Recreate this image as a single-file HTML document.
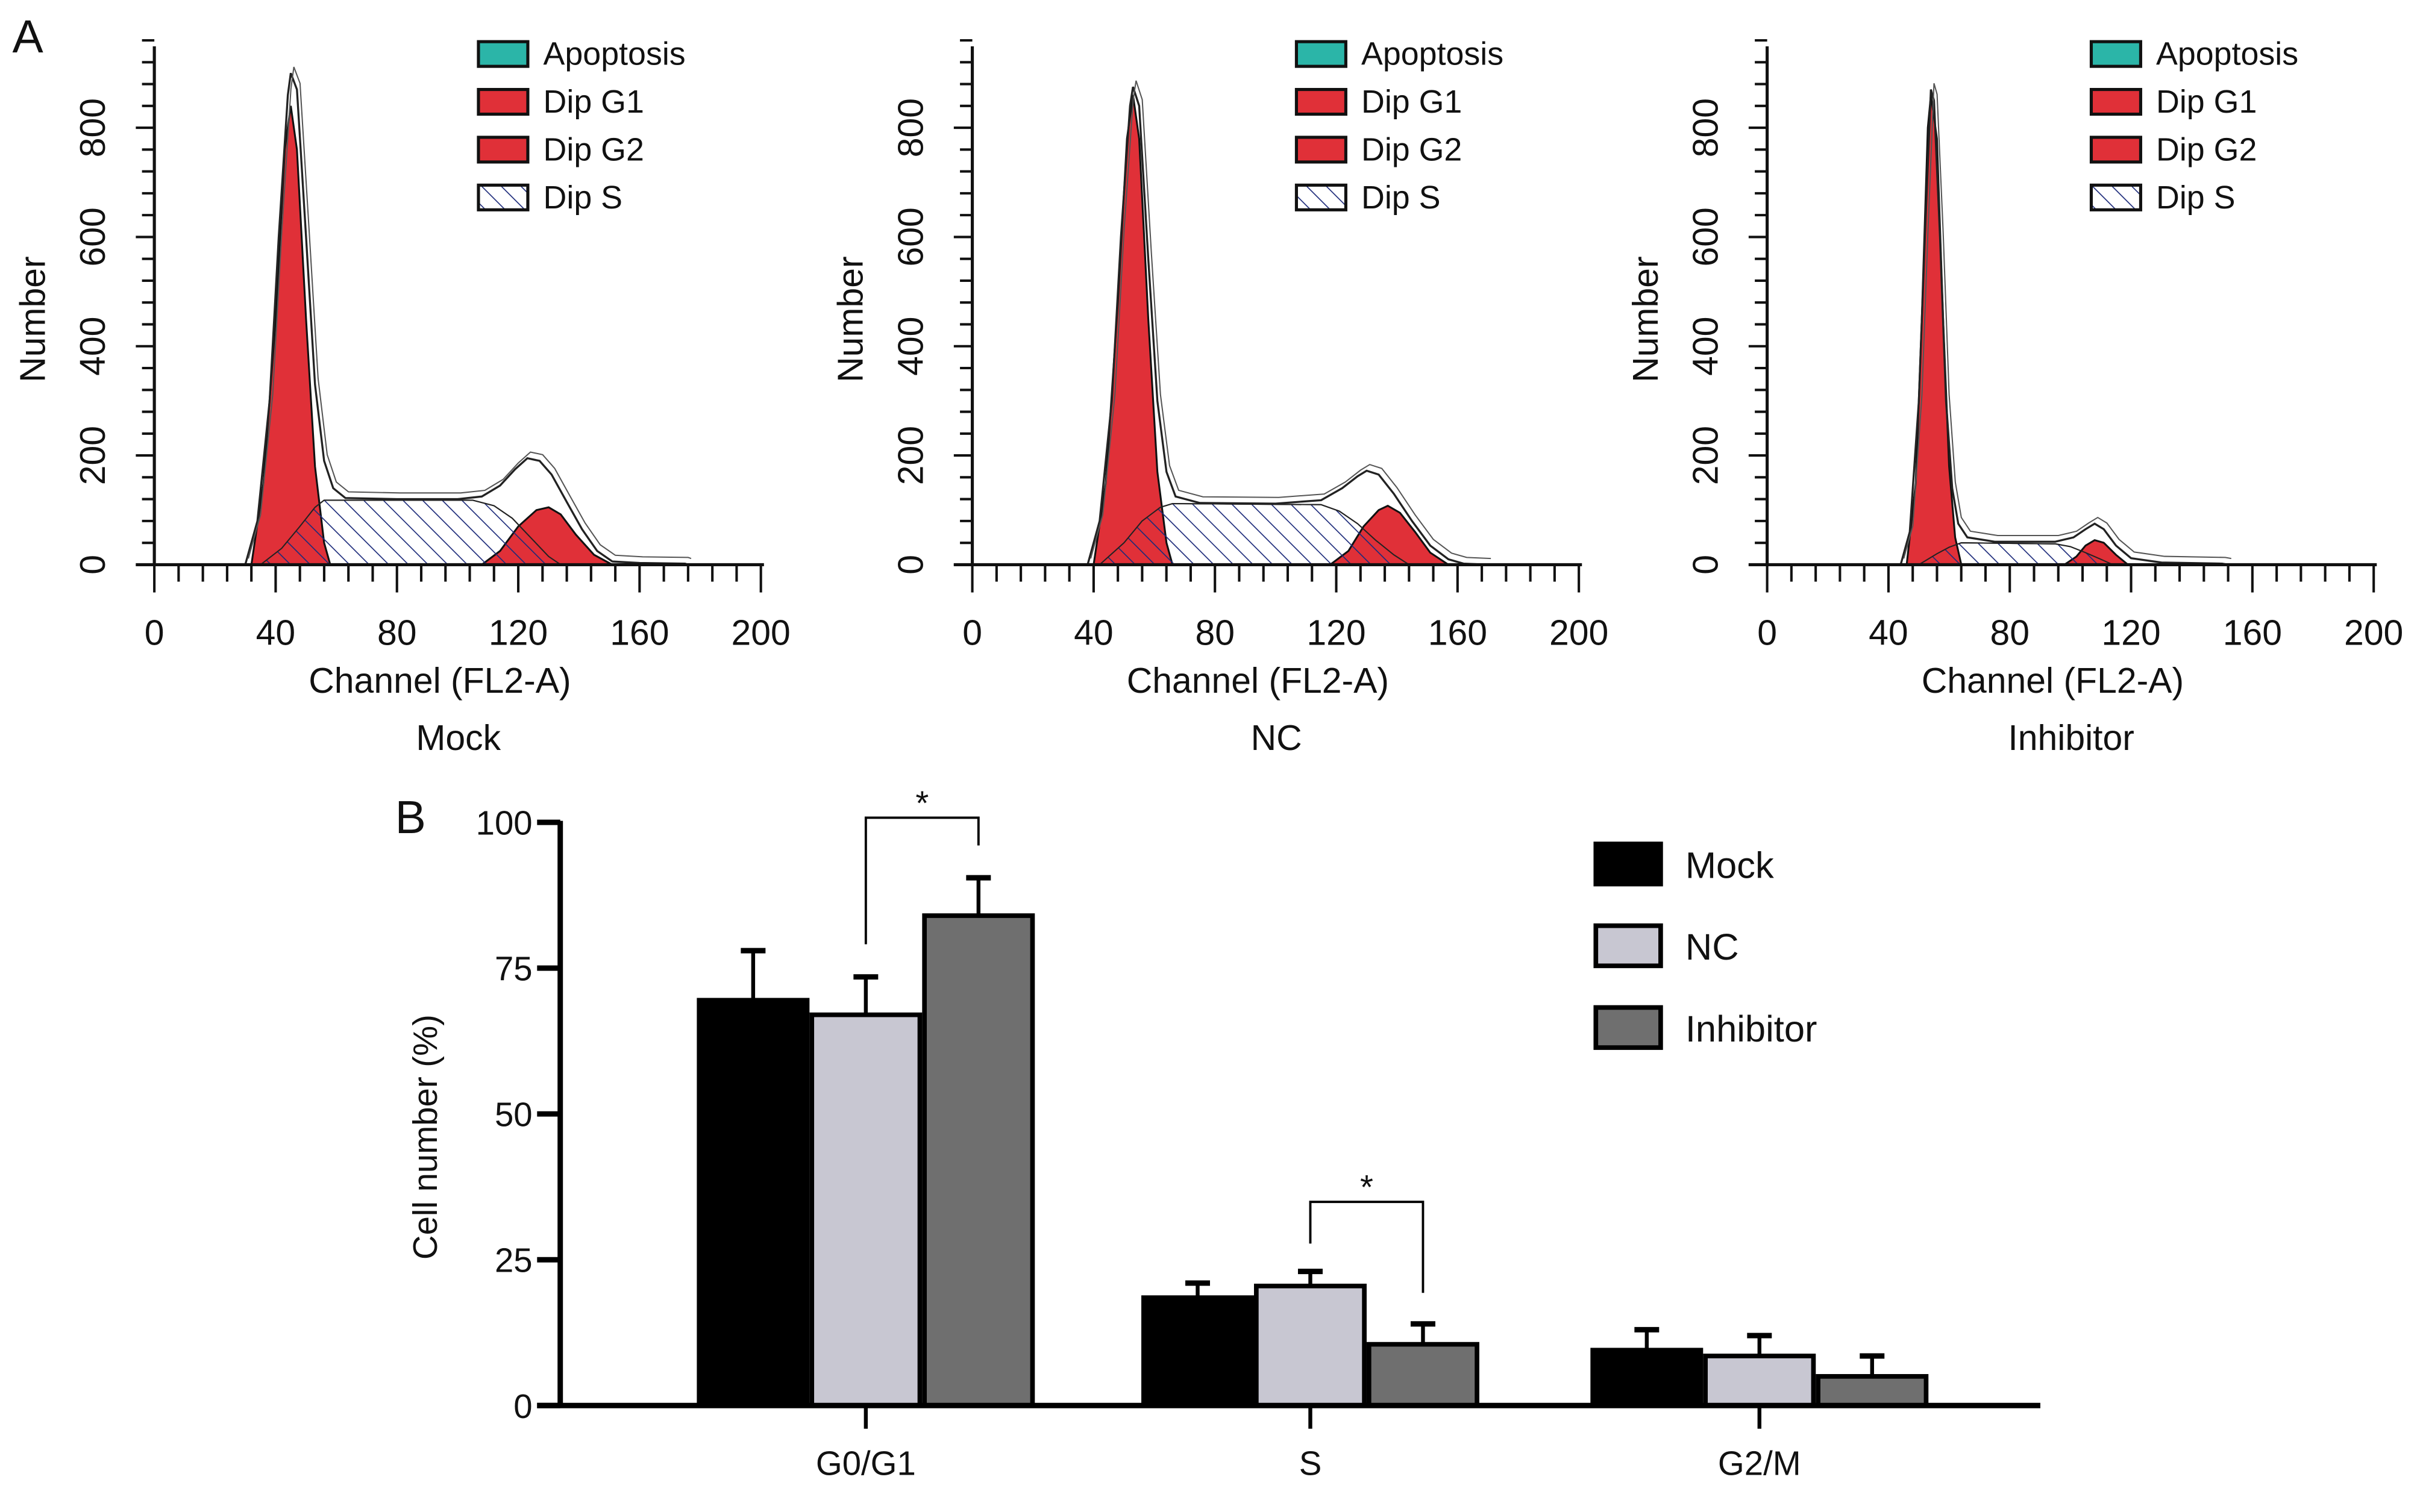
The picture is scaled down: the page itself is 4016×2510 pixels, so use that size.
<!DOCTYPE html>
<html><head><meta charset="utf-8"><style>
html,body{margin:0;padding:0;background:#fff;}
svg{display:block;}
text{font-family:"Liberation Sans",sans-serif;fill:#111;}
</style></head><body>
<svg id="fig" xmlns="http://www.w3.org/2000/svg" width="4016" height="2510" viewBox="0 0 1568 980">
<defs>
<pattern id="hatch" patternUnits="userSpaceOnUse" width="9" height="9" patternTransform="rotate(-45)">
<line x1="0" y1="0" x2="0" y2="9" stroke="#1c2a7a" stroke-width="1.3"/>
</pattern>
</defs>
<rect x="0" y="0" width="1568" height="980" fill="#fff"/>
<text x="8" y="34" font-size="30">A</text>
<text x="256" y="540" font-size="30">B</text>
<g id="histos"></g>
<g id="bars"></g>
</svg>
<script>
// ---------- Histogram data (channel, count) ----------
const histNames = ["Mock","NC","Inhibitor"];
const histOrigins = [100, 630, 1145];
const mockG1 = [[32,0],[36,150],[40,450],[43,760],[45,840],[47,760],[50,450],[53,180],[56,40],[58,0]];
const mockS = [[35,0],[42,30],[48,70],[53,105],[56,118],[105,118],[112,108],[118,85],[124,50],[130,15],[134,0]];
const mockG2 = [[108,0],[114,25],[120,70],[126,100],[130,105],[134,92],[139,55],[145,18],[151,0]];
const mockTotal = [[30,0],[34,80],[38,300],[41,600],[44,860],[45,900],[47,870],[50,600],[53,330],[56,190],[59,140],[63,122],[80,120],[100,120],[108,125],[114,145],[119,175],[123,195],[127,190],[131,165],[136,115],[141,65],[146,25],[151,6],[160,3],[175,2],[176,0]];
const ncG1 = [[40,0],[44,150],[48,480],[51,780],[53,860],[55,780],[58,450],[61,170],[64,40],[66,0]];
const ncS = [[42,0],[50,40],[56,80],[62,105],[66,112],[115,110],[121,98],[127,75],[133,45],[139,18],[144,0]];
const ncG2 = [[118,0],[124,25],[129,70],[134,100],[137,108],[141,95],[146,60],[151,22],[157,0]];
const ncTotal = [[38,0],[42,80],[46,300],[49,600],[52,840],[53,875],[55,840],[58,560],[61,300],[64,170],[67,125],[75,113],[100,112],[115,118],[122,140],[127,162],[130,172],[134,165],[139,130],[145,80],[151,35],[157,10],[162,2],[170,0]];
const inhG1 = [[46,0],[49,150],[51,450],[53,800],[54,860],[56,780],[58,450],[60,180],[62,50],[64,0]];
const inhS = [[50,0],[56,20],[60,32],[64,40],[95,38],[100,33],[105,22],[110,10],[114,0]];
const inhG2 = [[98,0],[102,15],[105,35],[108,45],[111,40],[115,18],[119,0]];
const inhTotal = [[44,0],[47,60],[50,300],[52,600],[54,870],[55,850],[57,600],[59,300],[61,140],[63,75],[66,50],[75,42],[95,42],[101,50],[105,65],[108,75],[111,65],[115,35],[120,12],[130,4],[150,2],[152,0]];
const histSeries = [
  {g1:mockG1, s:mockS, g2:mockG2, total:mockTotal},
  {g1:ncG1, s:ncS, g2:ncG2, total:ncTotal},
  {g1:inhG1, s:inhS, g2:inhG2, total:inhTotal}
];
const histXTicks = [0,40,80,120,160,200];
const histYTicks = [0,200,400,600,800];
const histLegend = ["Apoptosis","Dip G1","Dip G2","Dip S"];

// ---------- Bar chart data ----------
const barCategories = ["G0/G1","S","G2/M"];
const barGroups = ["Mock","NC","Inhibitor"];
const mockValues = [69.5, 18.5, 9.5];
const ncValues = [67, 20.5, 8.5];
const inhibitorValues = [84, 10.5, 5];
const mockErrors = [8.5, 2.5, 3.5];
const ncErrors = [6.5, 2.5, 3.5];
const inhibitorErrors = [6.5, 3.5, 3.5];
const barYTicks = [0,25,50,75,100];

const NS = "http://www.w3.org/2000/svg";
function mk(tag, attrs, parent){
  const e = document.createElementNS(NS, tag);
  for (const k in attrs) e.setAttribute(k, attrs[k]);
  parent.appendChild(e);
  return e;
}
const hg = document.getElementById("histos");
const X_AXIS_Y = 366, XSCALE = 1.965, YSCALE = 0.354;

histSeries.forEach((ser, i) => {
  const x0 = histOrigins[i];
  const xs = v => x0 + v * XSCALE;
  const ys = v => X_AXIS_Y - v * YSCALE;
  const g = mk("g", {}, hg);
  
  
  const pts = arr => arr.map(p => xs(p[0]).toFixed(1) + "," + ys(p[1]).toFixed(1)).join(" ");
  const sw = mk("polygon", {points: pts(ser.s), fill: "#fff", stroke: "#222", "stroke-width": 0.8}, g);
  
  
  const r1 = mk("polygon", {points: pts(ser.g1), fill: "#e03038", stroke: "#111", "stroke-width": 1.2}, g);
  
  
  const r2 = mk("polygon", {points: pts(ser.g2), fill: "#e03038", stroke: "#111", "stroke-width": 1.2}, g);
  
  
  const sh = mk("polygon", {points: pts(ser.s), fill: "url(#hatch)", stroke: "#222", "stroke-width": 0.8}, g);
  
  
  const tl = mk("polyline", {points: pts(ser.total), fill: "none", stroke: "#222", "stroke-width": 1.3}, g);
  
  
  const tl2 = mk("polyline", {points: pts(ser.total), fill: "none", stroke: "#555", "stroke-width": 0.8, transform: "translate(2,-4)"}, g);
  
  
  // axes
  const ya = mk("line", {x1: x0, y1: 30, x2: x0, y2: X_AXIS_Y, stroke: "#111", "stroke-width": 2}, g);
  
  
  const xa = mk("line", {x1: x0 - 12, y1: X_AXIS_Y, x2: xs(200) + 2, y2: X_AXIS_Y, stroke: "#111", "stroke-width": 2}, g);
  
  
  for (let v = 0; v <= 960; v += 40) {
    const major = v % 200 === 0;
    const t = mk("line", {x1: x0 - (major ? 12 : 8), y1: ys(v), x2: x0, y2: ys(v), stroke: "#111", "stroke-width": 1.6}, g);
    
    
  }
  for (let v = 0; v <= 200; v += 8) {
    const major = v % 40 === 0;
    const t = mk("line", {x1: xs(v), y1: X_AXIS_Y, x2: xs(v), y2: X_AXIS_Y + (major ? 18 : 11), stroke: "#111", "stroke-width": 1.6}, g);
    
    
  }
  histXTicks.forEach(v => {
    const t = mk("text", {x: xs(v), y: 418, "font-size": 23, "text-anchor": "middle"}, g);
    t.textContent = v;
    
    
  });
  histYTicks.forEach(v => {
    const t = mk("text", {x: 0, y: 0, "font-size": 23, "text-anchor": "middle", transform: `translate(${x0 - 32},${ys(v)}) rotate(-90)`}, g);
    t.textContent = v;
    
    
  });
  const yl = mk("text", {x: 0, y: 0, "font-size": 23, "text-anchor": "middle", transform: `translate(${x0 - 71},${207}) rotate(-90)`}, g);
  yl.textContent = "Number";
  
  
  const xl = mk("text", {x: x0 + 185, y: 449, "font-size": 23, "text-anchor": "middle"}, g);
  xl.textContent = "Channel (FL2-A)";
  
  
  const nm = mk("text", {x: x0 + 197, y: 486, "font-size": 23, "text-anchor": "middle"}, g);
  nm.textContent = histNames[i];
  
  
  // legend
  const fills = ["#2bb5a8", "#e03038", "#e03038", "url(#hatch)"];
  histLegend.forEach((lab, k) => {
    const ly = 27 + k * 31;
    const lx = x0 + 210;
    if (k === 3) mk("rect", {x: lx, y: ly, width: 32, height: 16, fill: "#fff"}, g);
    const b = mk("rect", {x: lx, y: ly, width: 32, height: 16, fill: fills[k], stroke: "#111", "stroke-width": 2}, g);
    
    
    const t = mk("text", {x: lx + 42, y: ly + 15, "font-size": 21}, g);
    t.textContent = lab;
    
    
  });
});

// ---------- Bar chart ----------
const bg = document.getElementById("bars");
const BY0 = 911, BSCALE = 3.78, BX0 = 363;
const by = v => BY0 - v * BSCALE;
const groupCenters = [561, 849, 1140];
const BW = 73;
const bx = (ci, gi) => groupCenters[ci] + (gi - 1) * BW - BW / 2;
const seriesVals = [mockValues, ncValues, inhibitorValues];
const seriesErr = [mockErrors, ncErrors, inhibitorErrors];
const barFills = ["#000", "#c8c7d2", "#6f6f6f"];

barCategories.forEach((cat, ci) => {
  seriesVals.forEach((vals, gi) => {
    const x = bx(ci, gi), top = by(vals[ci]);
    const e = by(vals[ci] + seriesErr[gi][ci]);
    const cx = x + BW / 2;
    const el = mk("line", {x1: cx, y1: top, x2: cx, y2: e, stroke: "#000", "stroke-width": 2.5}, bg);
    
    
    const cap = mk("line", {x1: cx - 8, y1: e, x2: cx + 8, y2: e, stroke: "#000", "stroke-width": 3.5}, bg);
    
    
    const r = mk("rect", {x: x + 1.5, y: top, width: BW - 3, height: BY0 - top, fill: barFills[gi], stroke: "#000", "stroke-width": 3}, bg);
    
    
  });
  const t = mk("line", {x1: groupCenters[ci], y1: BY0, x2: groupCenters[ci], y2: BY0 + 15, stroke: "#000", "stroke-width": 2.5}, bg);
  
  
  const l = mk("text", {x: groupCenters[ci], y: 956, "font-size": 22, "text-anchor": "middle"}, bg);
  l.textContent = cat;
  
  
});
const bya = mk("line", {x1: BX0, y1: by(100) - 1, x2: BX0, y2: BY0, stroke: "#000", "stroke-width": 3.5}, bg);


const bxa = mk("line", {x1: BX0 - 15, y1: BY0, x2: 1322, y2: BY0, stroke: "#000", "stroke-width": 3.5}, bg);


barYTicks.forEach(v => {
  const t = mk("line", {x1: BX0 - 15, y1: by(v), x2: BX0, y2: by(v), stroke: "#000", "stroke-width": 3.5}, bg);
  
  
  const l = mk("text", {x: BX0 - 18, y: by(v) + 8, "font-size": 22, "text-anchor": "end"}, bg);
  l.textContent = v;
  
  
});
const byl = mk("text", {x: 0, y: 0, "font-size": 22, "text-anchor": "middle", transform: "translate(283,737) rotate(-90)"}, bg);
byl.textContent = "Cell number (%)";



// significance brackets (between NC and Inhibitor)
[[0, 530, 612, 548], [1, 779, 806, 838]].forEach(b => {
  const ci = b[0];
  const xl = bx(ci, 1) + BW / 2, xr = bx(ci, 2) + BW / 2;
  const p = mk("polyline", {points: `${xl},${b[2]} ${xl},${b[1]} ${xr},${b[1]} ${xr},${b[3]}`, fill: "none", stroke: "#000", "stroke-width": 1.5}, bg);
  
  
  const s = mk("text", {x: (xl + xr) / 2, y: b[1] - 2, "font-size": 22, "text-anchor": "middle"}, bg);
  s.textContent = "*";
  
  
});

// legend
barGroups.forEach((g, gi) => {
  const ly = [547, 600, 653][gi];
  const r = mk("rect", {x: 1034, y: ly, width: 42, height: 26, fill: barFills[gi], stroke: "#000", "stroke-width": 3}, bg);
  
  
  const t = mk("text", {x: 1092, y: ly + 22, "font-size": 24}, bg);
  t.textContent = g;
  
  
});
</script>
</body></html>
